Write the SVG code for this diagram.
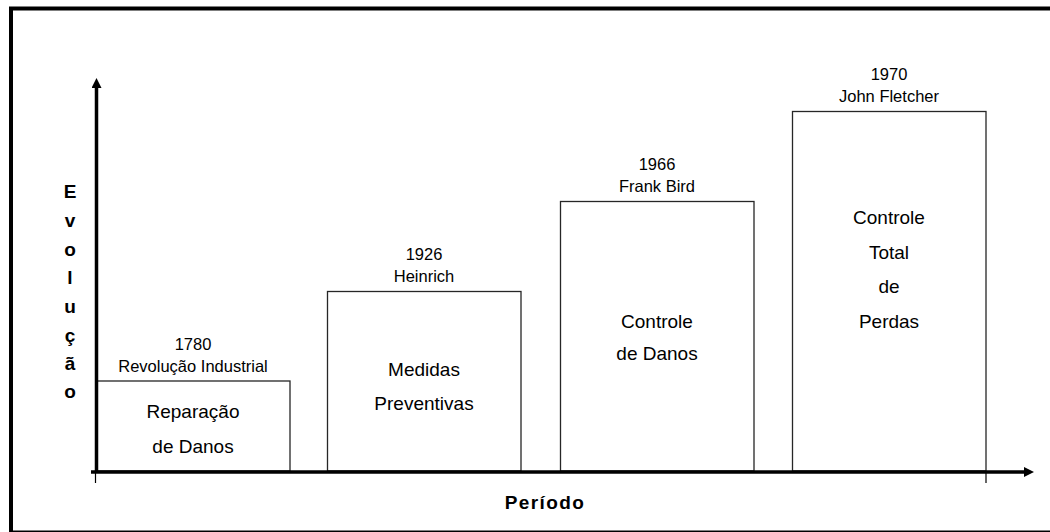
<svg xmlns="http://www.w3.org/2000/svg" width="1050" height="532" viewBox="0 0 1050 532">
  <style>
    .box { fill: #ffffff; stroke: #262626; stroke-width: 1.3; }
    .axis { stroke: #000000; stroke-width: 3.5; fill: none; }
    .tick { stroke: #000000; stroke-width: 1.2; }
    .year { font-family: "Liberation Sans", Arial, sans-serif; font-size: 16.5px; fill: #000000; text-anchor: middle; }
    .label { font-family: "Liberation Sans", Arial, sans-serif; font-size: 19px; fill: #000000; text-anchor: middle; }
    .title { font-family: "Liberation Sans", Arial, sans-serif; font-size: 19px; font-weight: bold; fill: #000000; text-anchor: middle; }
  </style>
  <defs>
    <marker id="arrow" viewBox="0 0 10 10" refX="0" refY="5" markerWidth="10" markerHeight="10" markerUnits="userSpaceOnUse" orient="auto">
      <path d="M0,0 L10,5 L0,10 Z" fill="#000000"/>
    </marker>
  </defs>

  <rect width="1050" height="532" fill="#ffffff"/>
  <!-- outer frame -->
  <rect x="11" y="8.5" width="1060" height="524" fill="none" stroke="#000000" stroke-width="4"/>

  <!-- stages -->
  <g id="stage-1780">
    <rect class="box" x="97" y="381" width="193" height="90"/>
    <text class="year" x="193" y="350">1780</text>
    <text class="year" x="193" y="371.5">Revolução Industrial</text>
    <text class="label" x="193" y="418">Reparação</text>
    <text class="label" x="193" y="452.5">de Danos</text>
  </g>
  <g id="stage-1926">
    <rect class="box" x="327.5" y="291.5" width="193.5" height="179.5"/>
    <text class="year" x="424" y="260">1926</text>
    <text class="year" x="424" y="281.5">Heinrich</text>
    <text class="label" x="424" y="375.5">Medidas</text>
    <text class="label" x="424" y="409.5">Preventivas</text>
  </g>
  <g id="stage-1966">
    <rect class="box" x="560.5" y="201.5" width="193.5" height="269.5"/>
    <text class="year" x="657" y="170">1966</text>
    <text class="year" x="657" y="191.5">Frank Bird</text>
    <text class="label" x="657" y="327.5">Controle</text>
    <text class="label" x="657" y="359.5">de Danos</text>
  </g>
  <g id="stage-1970">
    <rect class="box" x="792.5" y="111.5" width="193.5" height="359.5"/>
    <text class="year" x="889" y="80">1970</text>
    <text class="year" x="889" y="101.5">John Fletcher</text>
    <text class="label" x="889" y="223.5">Controle</text>
    <text class="label" x="889" y="258.5">Total</text>
    <text class="label" x="889" y="292.5">de</text>
    <text class="label" x="889" y="327.5">Perdas</text>
  </g>

  <!-- axes -->
  <g id="axes">
    <line class="axis" x1="96.5" y1="472" x2="96.5" y2="88" marker-end="url(#arrow)"/>
    <line class="axis" x1="91" y1="472" x2="1024" y2="472" marker-end="url(#arrow)"/>
    <line class="tick" x1="95.5" y1="472" x2="95.5" y2="483"/>
    <line class="tick" x1="986" y1="472" x2="986" y2="483"/>
  </g>

  <!-- axis titles -->
  <g id="axis-titles">
    <text class="title" x="70" y="198">E</text>
    <text class="title" x="70" y="227">v</text>
    <text class="title" x="70" y="256">o</text>
    <text class="title" x="70" y="284">l</text>
    <text class="title" x="70" y="313">u</text>
    <text class="title" x="70" y="341.5">ç</text>
    <text class="title" x="70" y="370">ã</text>
    <text class="title" x="70" y="398">o</text>
    <text class="title" x="545" y="509" style="letter-spacing:1.4px">Período</text>
  </g>
</svg>
